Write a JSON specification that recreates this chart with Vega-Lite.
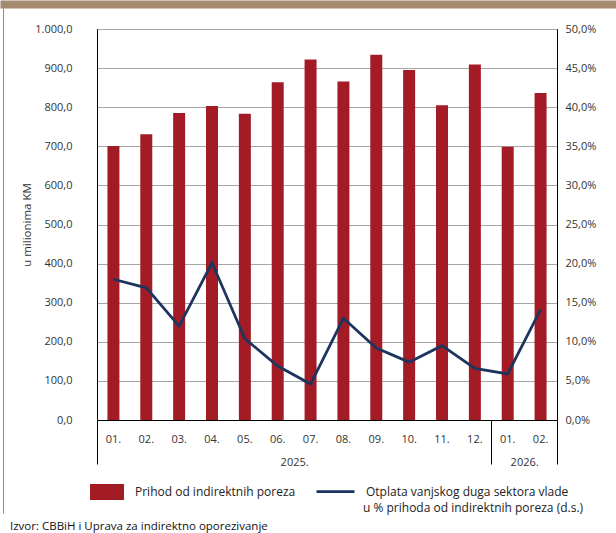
{
  "$schema": "https://vega.github.io/schema/vega-lite/v6.json",
  "width": 460,
  "height": 391,
  "autosize": "none",
  "padding": {"left": 97, "top": 29, "right": 59, "bottom": 113},
  "background": "white",
  "config": {
    "font": "Open Sans",
    "view": {"stroke": "#000000", "strokeWidth": 1},
    "locale": {"number": {"decimal": ",", "thousands": ".", "grouping": [3], "currency": ["", ""]}},
    "axis": {"labelFont": "Open Sans", "labelFontSize": 11, "labelColor": "#333333", "titleFont": "Open Sans", "titleFontWeight": "normal", "titleColor": "#333333"},
    "legend": {"labelFont": "Open Sans", "labelFontSize": 12, "labelColor": "#222222", "labelLimit": 400}
  },
  "title": {
    "text": "Izvor: CBBiH i Uprava za indirektno oporezivanje",
    "orient": "bottom",
    "anchor": "start",
    "frame": "group",
    "font": "Open Sans",
    "fontSize": 11.5,
    "fontWeight": "normal",
    "color": "#111111",
    "dx": -87,
    "offset": -13
  },
  "data": {
    "values": [
      {"period": "2025-01", "prihod": 701, "otplata": 18.0},
      {"period": "2025-02", "prihod": 731, "otplata": 16.9},
      {"period": "2025-03", "prihod": 785, "otplata": 12.0},
      {"period": "2025-04", "prihod": 803, "otplata": 20.1},
      {"period": "2025-05", "prihod": 783, "otplata": 10.4},
      {"period": "2025-06", "prihod": 864, "otplata": 6.9},
      {"period": "2025-07", "prihod": 922, "otplata": 4.6},
      {"period": "2025-08", "prihod": 866, "otplata": 13.0},
      {"period": "2025-09", "prihod": 934, "otplata": 9.2},
      {"period": "2025-10", "prihod": 895, "otplata": 7.4},
      {"period": "2025-11", "prihod": 805, "otplata": 9.5},
      {"period": "2025-12", "prihod": 909, "otplata": 6.6},
      {"period": "2026-01", "prihod": 699, "otplata": 5.9},
      {"period": "2026-02", "prihod": 836, "otplata": 14.1}
    ]
  },
  "layer": [
    {
      "mark": {"type": "bar"},
      "encoding": {
        "x": {
          "field": "period", "type": "ordinal",
          "scale": {"type": "band", "paddingInner": 0.635, "paddingOuter": 0.3175},
          "axis": {"orient": "bottom", "title": null, "ticks": false, "labelAngle": 0, "labelPadding": 13, "domainColor": "#000000", "labelExpr": "slice(datum.value, 5) + '.'"}
        },
        "y": {
          "field": "prihod", "type": "quantitative",
          "scale": {"domain": [0, 1000], "nice": false},
          "axis": {"orient": "left", "title": "u milionima KM", "titleFontSize": 11.5, "titlePadding": 2, "values": [0, 100, 200, 300, 400, 500, 600, 700, 800, 900, 1000], "format": ",.1f", "ticks": false, "labelPadding": 25, "grid": true, "gridColor": "#a6a6a6", "gridWidth": 1, "domainColor": "#000000"}
        },
        "fill": {
          "datum": "Prihod od indirektnih poreza",
          "scale": {"range": ["#a31c25"]},
          "legend": {"orient": "none", "legendX": -7, "legendY": 446, "title": null, "symbolType": "M-1,-0.47H1V0.47H-1Z", "symbolSize": 1156, "symbolStrokeWidth": 0, "labelOffset": 11}
        }
      }
    },
    {
      "mark": {"type": "line", "strokeWidth": 2.75},
      "encoding": {
        "x": {
          "field": "period", "type": "ordinal",
          "scale": {"type": "band", "paddingInner": 0.635, "paddingOuter": 0.3175},
          "axis": null
        },
        "y": {
          "field": "otplata", "type": "quantitative",
          "scale": {"domain": [0, 50], "nice": false},
          "axis": {"orient": "right", "title": null, "values": [0, 5, 10, 15, 20, 25, 30, 35, 40, 45, 50], "labelExpr": "format(datum.value, ',.1f') + '%'", "ticks": false, "labelPadding": 8, "grid": false, "domainColor": "#000000"}
        },
        "stroke": {
          "datum": "Otplata vanjskog duga sektora vlade",
          "scale": {"range": ["#1d355e"]},
          "legend": {"orient": "none", "legendX": 218, "legendY": 442, "title": null, "symbolType": "stroke", "symbolSize": 1444, "symbolStrokeWidth": 2.75, "labelOffset": 10}
        }
      }
    },
    {
      "mark": {"type": "rule", "opacity": 0},
      "encoding": {
        "x": {
          "datum": 0, "type": "quantitative",
          "scale": {"domain": [0, 14], "nice": false, "zero": false},
          "axis": {"orient": "bottom", "title": null, "values": [0, 12, 14], "labels": false, "domain": false, "grid": false, "ticks": true, "tickSize": 44, "tickColor": "#000000", "tickWidth": 1}
        },
        "color": {
          "datum": "u % prihoda od indirektnih poreza (d.s.)",
          "scale": {"range": ["#1d355e"]},
          "legend": {"orient": "none", "legendX": 218, "legendY": 460, "title": null, "symbolType": "stroke", "symbolSize": 1444, "symbolOpacity": 0, "symbolStrokeWidth": 0, "labelOffset": 10}
        }
      }
    },
    {
      "mark": {"type": "rule", "opacity": 0},
      "encoding": {
        "x": {
          "datum": 6, "type": "quantitative",
          "scale": {"domain": [0, 14], "nice": false, "zero": false},
          "axis": {"orient": "bottom", "title": null, "values": [6, 13], "labelExpr": "datum.value == 6 ? '2025.' : '2026.'", "domain": false, "grid": false, "ticks": false, "labelPadding": 36, "labelFontSize": 11}
        }
      }
    },
    {
      "mark": {"type": "rule", "opacity": 0},
      "encoding": {
        "x": {
          "datum": 0, "type": "quantitative",
          "scale": {"domain": [0, 1], "nice": false, "zero": false, "range": [-97, 519]},
          "axis": {"orient": "top", "title": null, "offset": 25, "labels": false, "ticks": false, "grid": false, "domain": true, "domainWidth": 8, "domainColor": "#a48a6e", "domainCap": "butt"}
        },
        "y": {
          "datum": 0, "type": "quantitative",
          "scale": {"domain": [0, 1], "nice": false, "zero": false, "range": [484, -21]},
          "axis": {"orient": "left", "title": null, "offset": 94, "labels": false, "ticks": false, "grid": false, "domain": true, "domainWidth": 1, "domainColor": "#8c8c8c"}
        }
      }
    }
  ],
  "resolve": {
    "scale": {"x": "independent", "y": "independent"},
    "axis": {"x": "independent", "y": "independent"}
  }
}
